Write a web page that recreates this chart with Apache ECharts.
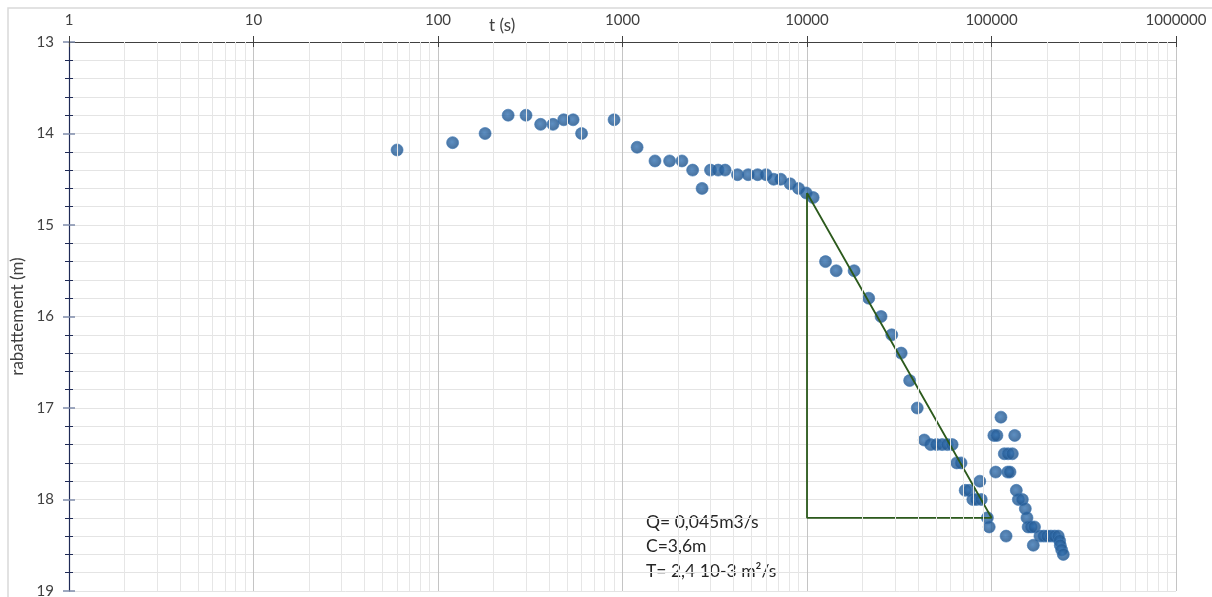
<!DOCTYPE html>
<html>
<head>
<meta charset="utf-8">
<style>
  html, body { margin: 0; padding: 0; background: #fff; }
  #main { width: 1212px; height: 597px; }
</style>
</head>
<body>
<div id="main"></div>
<script src="https://cdn.jsdelivr.net/npm/echarts@6/dist/echarts.min.js"></script>
<script>
// temps (s) et rabattement (m)
var temps = [60, 120, 180, 240, 300, 360, 420, 480, 540, 600,
  900, 1200, 1500, 1800, 2100, 2400, 2700, 3000, 3300, 3600,
  4200, 4800, 5400, 6000, 6600, 7200, 8100, 9000, 9900, 10800,
  12600, 14400, 18000, 21600, 25200, 28800, 32400, 36000, 39600,
  43200, 46800, 50400, 54000, 57600, 61200, 64800, 68400, 72000, 75600,
  79200, 82800, 88000, 86400, 95000, 97200,
  112500, 103000, 107000, 133600, 117300, 123000, 129700, 105400, 122400, 126000,
  120000, 136300, 139800, 147000, 152500, 155700, 158000, 164000, 171000, 168500,
  183000, 192000, 201000, 210000, 220000, 230000, 234000, 236000, 240000, 245000];
var rabattement = [14.18, 14.1, 14.0, 13.8, 13.8, 13.9, 13.9, 13.85, 13.85, 14.0,
  13.85, 14.15, 14.3, 14.3, 14.3, 14.4, 14.6, 14.4, 14.4, 14.4,
  14.45, 14.45, 14.45, 14.45, 14.5, 14.5, 14.55, 14.6, 14.65, 14.7,
  15.4, 15.5, 15.5, 15.8, 16.0, 16.2, 16.4, 16.7, 17.0,
  17.35, 17.4, 17.4, 17.4, 17.4, 17.4, 17.6, 17.6, 17.9, 17.9,
  18.0, 18.0, 18.0, 17.8, 18.2, 18.3,
  17.1, 17.3, 17.3, 17.3, 17.5, 17.5, 17.5, 17.7, 17.7, 17.7,
  18.4, 17.9, 18.0, 18.0, 18.1, 18.2, 18.3, 18.3, 18.3, 18.5,
  18.4, 18.4, 18.4, 18.4, 18.4, 18.4, 18.45, 18.5, 18.55, 18.6];

// droite de Jacob et triangle de construction
var droiteT = [10000, 100000, 10000, 10000];
var droiteS = [14.65, 18.2, 18.2, 14.65];

var xTicks = ['1', '10', '100', '1000', '10000', '100000', '1000000'];
var yTicks = [13, 14, 15, 16, 17, 18, 19];

var points = [];
for (var i = 0; i < temps.length; i++) {
  points.push([temps[i], rabattement[i]]);
}
var triangle = [];
for (var j = 0; j < droiteT.length; j++) {
  triangle.push([droiteT[j], droiteS[j]]);
}

// quadrillage secondaire vertical (2..9 dans chaque décade)
var grilleMineure = [];
for (var d = 0; d < xTicks.length - 1; d++) {
  var base = Number(xTicks[d]);
  for (var m = 2; m <= 9; m++) {
    grilleMineure.push({ xAxis: base * m });
  }
}

var police = 'Lato, "Open Sans", sans-serif';
var myChart = echarts.init(document.getElementById('main'));

var option = {
  animation: false,
  backgroundColor: '#ffffff',
  textStyle: { fontFamily: police },
  grid: { left: 69, top: 42, width: 1107, height: 549, outerBoundsMode: 'none' },
  graphic: [
    { type: 'rect', shape: { x: 8, y: 8, width: 1230, height: 620 },
      style: { fill: 'none', stroke: '#d9d9d9', lineWidth: 1.5 }, silent: true },
    { type: 'text', left: 489, top: 17,
      style: { text: 't (s)', fontSize: 17, fill: '#404040', fontFamily: police } },
    { type: 'text', left: 646, top: 510,
      style: { text: 'Q= 0,045m3/s\nC=3,6m\nT= 2,4 10-3 m²/s', fontSize: 17.5,
        lineHeight: 24.5, fill: '#262626', fontFamily: police } }
  ],
  xAxis: [{
    type: 'log', logBase: 10, position: 'top', min: 1, max: 1000000,
    axisLine: { show: true, lineStyle: { color: '#404040', width: 1.2 } },
    axisTick: { show: true, inside: false, length: 6, lineStyle: { color: '#404040' } },
    axisLabel: { fontSize: 15, color: '#404040', margin: 14, fontFamily: police,
      formatter: function (v) { return String(Math.round(v)); } },
    splitLine: { show: true, lineStyle: { color: '#c4c4c4', width: 1 } }
  }, {
    type: 'log', logBase: 10, position: 'top', min: 1, max: 1000000,
    axisLine: { show: false },
    axisTick: { show: true, inside: true, length: 5, lineStyle: { color: '#404040' } },
    axisLabel: { show: false },
    splitLine: { show: false }
  }],
  yAxis: [{
    type: 'value', inverse: true, min: 13, max: 19, interval: 1,
    name: 'rabattement (m)', nameLocation: 'middle', nameGap: 38, nameRotate: 90,
    nameTextStyle: { fontSize: 17, color: '#404040', fontFamily: police },
    axisLine: { show: true, lineStyle: { color: '#1f2a56', width: 1.2 } },
    axisTick: { show: true, inside: false, length: 6, lineStyle: { color: '#7f8cab', width: 1.5 } },
    minorTick: { show: true, splitNumber: 5, length: 4, lineStyle: { color: '#1f2a56', width: 1 } },
    axisLabel: { fontSize: 15, color: '#404040', margin: 15, fontFamily: police },
    splitLine: { show: true, lineStyle: { color: '#e4e4e4', width: 1 } },
    minorSplitLine: { show: true, lineStyle: { color: '#e4e4e4', width: 1 } }
  }, {
    type: 'value', inverse: true, min: 13, max: 19, interval: 1, position: 'left',
    axisLine: { show: false },
    axisTick: { show: true, inside: true, length: 6, lineStyle: { color: '#7f8cab', width: 1.5 } },
    minorTick: { show: true, splitNumber: 5, length: 4, lineStyle: { color: '#1f2a56', width: 1 } },
    axisLabel: { show: false },
    splitLine: { show: false }
  }],
  series: [{
    name: 'grille',
    type: 'line',
    data: [],
    z: 1,
    silent: true,
    markLine: {
      silent: true,
      symbol: 'none',
      label: { show: false },
      lineStyle: { color: '#e6e6e6', width: 1, type: 'solid' },
      emphasis: { disabled: true },
      data: grilleMineure
    }
  }, {
    name: 'mesures',
    type: 'scatter',
    z: 3,
    data: points,
    symbol: 'circle',
    symbolSize: 12,
    itemStyle: {
      color: {
        type: 'radial', x: 0.45, y: 0.45, r: 0.6,
        colorStops: [{ offset: 0, color: '#3573b3' }, { offset: 1, color: '#184a80' }]
      },
      borderColor: '#3d78b5',
      borderWidth: 0.8
    }
  }, {
    name: 'droite',
    type: 'line',
    z: 4,
    data: triangle,
    symbol: 'none',
    lineStyle: { color: '#2c5a1c', width: 1.8 }
  }]
};

myChart.setOption(option);
</script>
</body>
</html>
